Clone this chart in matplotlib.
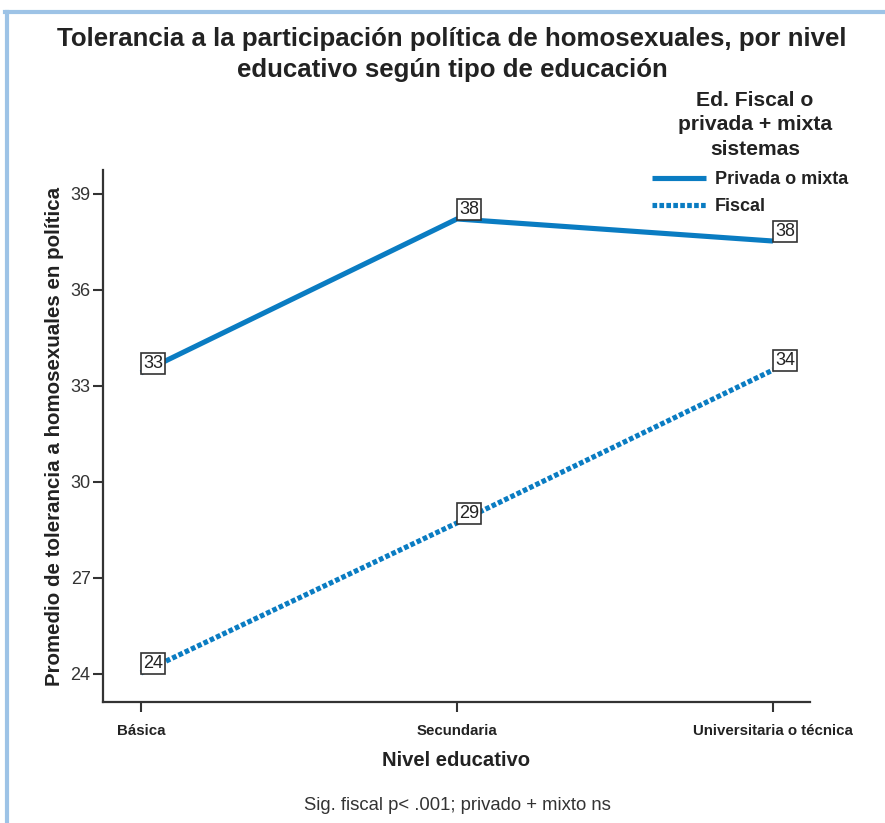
import matplotlib
matplotlib.use("Agg")
import matplotlib.pyplot as plt
from matplotlib.lines import Line2D

plt.rcParams['font.family'] = ['Liberation Sans', 'DejaVu Sans']

categories = ["Básica", "Secundaria", "Universitaria o técnica"]
privada = [33.41, 38.22, 37.53]
fiscal = [24.03, 28.72, 33.5]
series_names = ["Privada o mixta", "Fiscal"]
yticks = [24, 27, 30, 33, 36, 39]

title = "Tolerancia a la participación política de homosexuales, por nivel\neducativo según tipo de educación"
legend_title = "Ed. Fiscal o\nprivada + mixta\nsistemas"
ylabel = "Promedio de tolerancia a homosexuales en política"
xlabel = "Nivel educativo"
footnote = "Sig. fiscal p< .001; privado + mixto ns"

W, H = 885, 823
fig = plt.figure(figsize=(W / 100, H / 100), dpi=100)
ax = fig.add_axes([103 / W, 1 - 702 / H, 707 / W, 532 / H])

blue = "#0A7CC2"
x = list(range(len(categories)))
ax.plot(x, privada, color=blue, lw=3.7, solid_capstyle='butt', label=series_names[0])
ax.plot(x, fiscal, color=blue, lw=3.7, dashes=(0.9, 0.45), dash_capstyle='butt',
        label=series_names[1])

for xs, ys in ((x, privada), (x, fiscal)):
    for xi, yi in zip(xs, ys):
        ax.annotate(f"{round(yi):d}", (xi, yi), xytext=(2, 1), textcoords='offset pixels',
                    ha='left', va='bottom', fontsize=13, color='#222',
                    bbox=dict(boxstyle='square,pad=0.1', fc='white', ec='#333', lw=1.2))

ax.set_xlim(-0.12, 2.117)
ax.set_ylim(23.125, 39.75)
ax.set_xticks(x)
ax.set_xticklabels(categories, fontsize=10.8, fontweight='bold', color='#222')
ax.set_yticks(yticks)
ax.set_yticklabels([str(v) for v in yticks], fontsize=13, color='#333')
ax.tick_params(axis='x', length=7, width=1.5, color='#333', pad=9)
ax.tick_params(axis='y', length=7, width=1.5, color='#333', pad=2)
for s in ('top', 'right'):
    ax.spines[s].set_visible(False)
for s in ('left', 'bottom'):
    ax.spines[s].set_linewidth(1.6)
    ax.spines[s].set_color('#333')

ax.set_ylabel(ylabel, fontsize=14.8, fontweight='bold', color='#222')
ax.yaxis.set_label_coords(-0.055, 0.5)
ax.set_xlabel(xlabel, fontsize=14.6, fontweight='bold', color='#222')
ax.xaxis.set_label_coords(0.5, -0.093)

fig.text(452 / W, 1 - 54.5 / H, title, ha='center', va='center', fontsize=18.6,
         fontweight='bold', color='#222', linespacing=1.38)
fig.text(457 / W, 1 - 806 / H, footnote, ha='center', va='center', fontsize=13.3, color='#333')

# legend title as its own text block
fig.text(755 / W, 1 - 125 / H, legend_title, ha='center', va='center', fontsize=15.2,
         fontweight='bold', color='#222', linespacing=1.36, multialignment='center')

leg = ax.legend(loc='upper left', bbox_to_anchor=(652 / W, 1 - 171 / H),
                bbox_transform=fig.transFigure, frameon=False,
                prop={'size': 13, 'weight': 'bold'},
                handlelength=3.0, handletextpad=0.5, labelspacing=0.55, borderpad=0,
                borderaxespad=0)
for t in leg.get_texts():
    t.set_color('#222')

frame_color = "#9DC3E6"
fig.add_artist(Line2D([7 / W, 7 / W], [0, 1 - 12 / H], color=frame_color, lw=3,
                      transform=fig.transFigure))
fig.add_artist(Line2D([5 / W, 1], [1 - 12 / H, 1 - 12 / H], color=frame_color, lw=3,
                      transform=fig.transFigure))

fig.savefig("out.png", dpi=100)
